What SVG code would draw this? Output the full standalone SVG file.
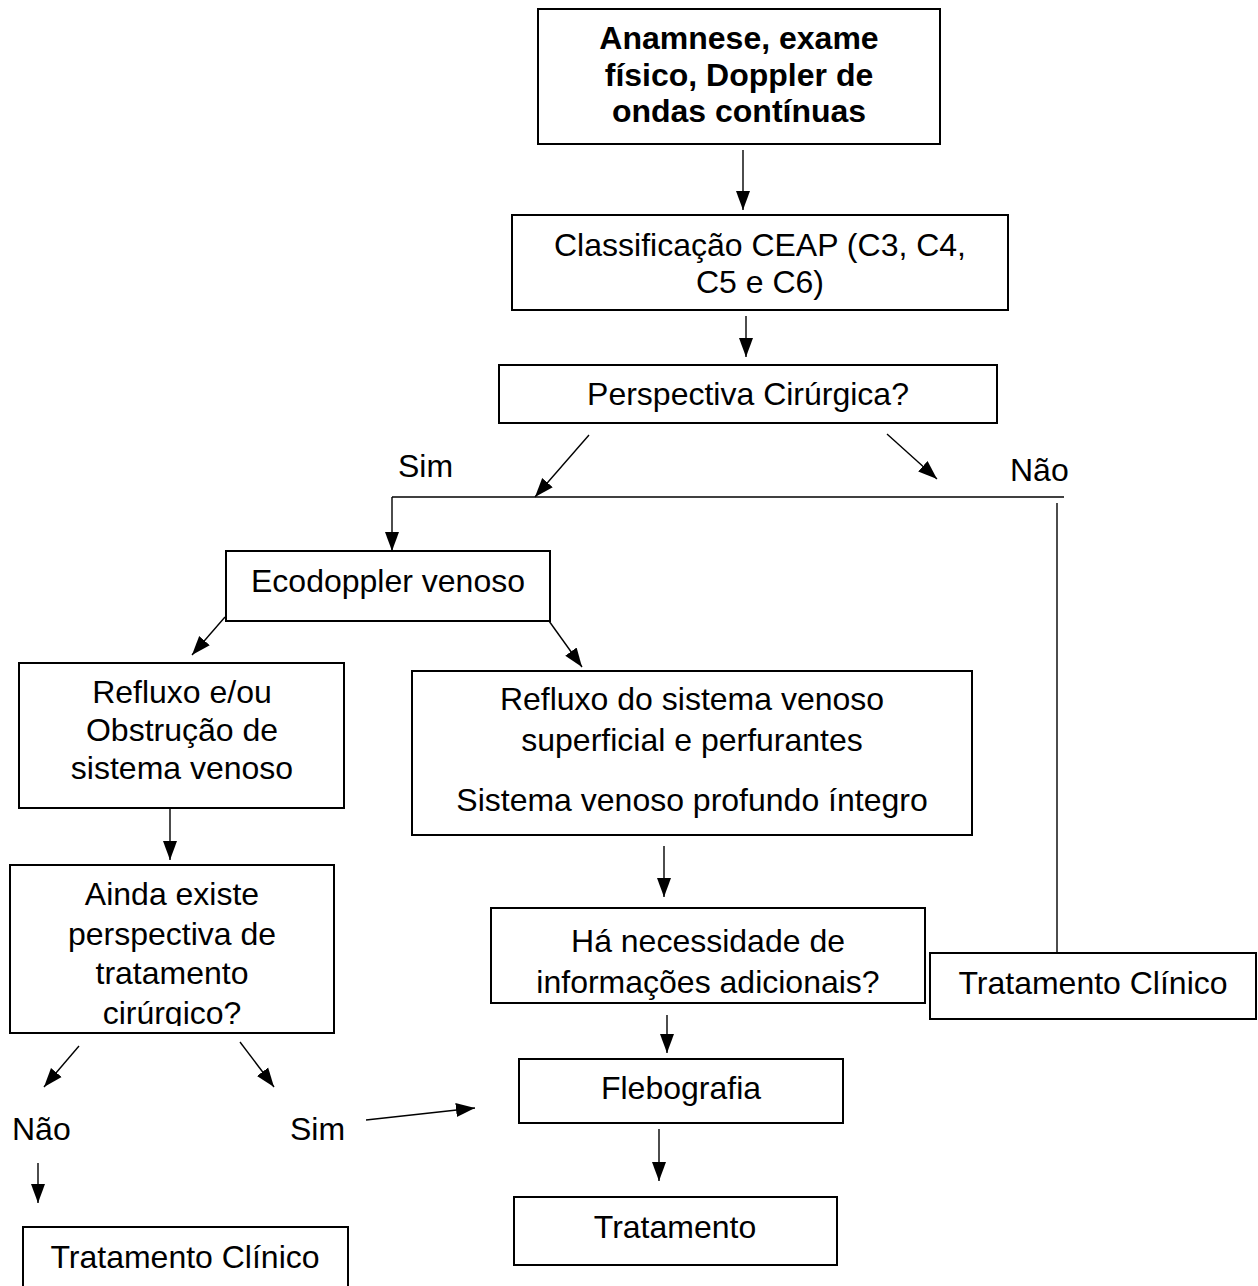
<svg xmlns="http://www.w3.org/2000/svg" width="1258" height="1286" viewBox="0 0 1258 1286">
<defs>
<style>
.box{fill:#fff;stroke:#000;stroke-width:2}
.t{font-family:"Liberation Sans",Arial,sans-serif;font-size:32px;fill:#000;text-anchor:middle}
.b{font-weight:bold}
.l{font-family:"Liberation Sans",Arial,sans-serif;font-size:32px;fill:#000}
.c{stroke:#000;stroke-width:1.4;fill:none}
.ca{stroke:#000;stroke-width:1.4;fill:none;marker-end:url(#ah)}
</style>
<marker id="ah" markerUnits="userSpaceOnUse" markerWidth="20" markerHeight="16" viewBox="0 0 20 16" refX="19" refY="8" orient="auto">
<path d="M0,1 L19,8 L0,15 Z" fill="#000"/>
</marker>
<clipPath id="clipAinda"><rect x="10" y="865" width="324" height="161"/></clipPath>
</defs>
<rect width="1258" height="1286" fill="#fff"/>

<g id="connectors">
<line class="ca" x1="743" y1="150" x2="743" y2="210"/>
<line class="ca" x1="746" y1="316" x2="746" y2="357"/>
<line class="ca" x1="589" y1="435" x2="535" y2="497"/>
<line class="ca" x1="887" y1="434" x2="937" y2="479"/>
<line class="c" x1="392" y1="497" x2="1064" y2="497"/>
<line class="ca" x1="392" y1="497" x2="392" y2="551"/>
<line class="c" x1="1057" y1="503" x2="1057" y2="953"/>
<line class="ca" x1="225" y1="617" x2="192" y2="655"/>
<line class="ca" x1="549" y1="621" x2="582" y2="667"/>
<line class="c" x1="171" y1="797" x2="174" y2="797"/>
<line class="ca" x1="170" y1="805" x2="170" y2="860"/>
<line class="ca" x1="664" y1="846" x2="664" y2="897"/>
<line class="ca" x1="79" y1="1046" x2="44" y2="1087"/>
<line class="ca" x1="240" y1="1042" x2="274" y2="1087"/>
<line class="ca" x1="366" y1="1120" x2="475" y2="1108"/>
<line class="ca" x1="38" y1="1163" x2="38" y2="1203"/>
<line class="ca" x1="667" y1="1015" x2="667" y2="1053"/>
<line class="ca" x1="659" y1="1129" x2="659" y2="1181"/>
</g>

<g id="labels">
<text class="l" x="398" y="477">Sim</text>
<text class="l" x="1010" y="481">Não</text>
<text class="l" x="12" y="1140">Não</text>
<text class="l" x="290" y="1140">Sim</text>
</g>

<g id="n1">
<rect class="box" x="538" y="9" width="402" height="135"/>
<text class="t b" x="739" y="49">Anamnese, exame</text>
<text class="t b" x="739" y="86">físico, Doppler de</text>
<text class="t b" x="739" y="122">ondas contínuas</text>
</g>

<g id="n2">
<rect class="box" x="512" y="215" width="496" height="95"/>
<text class="t" x="760" y="256">Classificação CEAP (C3, C4,</text>
<text class="t" x="760" y="293">C5 e C6)</text>
</g>

<g id="n3">
<rect class="box" x="499" y="365" width="498" height="58"/>
<text class="t" x="748" y="405">Perspectiva Cirúrgica?</text>
</g>

<g id="n4">
<rect class="box" x="226" y="551" width="324" height="70"/>
<text class="t" x="388" y="592">Ecodoppler venoso</text>
</g>

<g id="n5">
<rect class="box" x="19" y="663" width="325" height="145"/>
<text class="t" x="182" y="703">Refluxo e/ou</text>
<text class="t" x="182" y="741">Obstrução de</text>
<text class="t" x="182" y="779">sistema venoso</text>
</g>

<g id="n6">
<rect class="box" x="412" y="671" width="560" height="164"/>
<text class="t" x="692" y="710">Refluxo do sistema venoso</text>
<text class="t" x="692" y="751">superficial e perfurantes</text>
<text class="t" x="692" y="811">Sistema venoso profundo íntegro</text>
</g>

<g id="n7">
<rect class="box" x="10" y="865" width="324" height="168"/>
<g clip-path="url(#clipAinda)">
<text class="t" x="172" y="905">Ainda existe</text>
<text class="t" x="172" y="945">perspectiva de</text>
<text class="t" x="172" y="984">tratamento</text>
<text class="t" x="172" y="1024">cirúrgico?</text>
</g>
</g>

<g id="n8">
<rect class="box" x="491" y="908" width="434" height="95"/>
<text class="t" x="708" y="952">Há necessidade de</text>
<text class="t" x="708" y="993">informações adicionais?</text>
</g>

<g id="n9">
<rect class="box" x="930" y="953" width="326" height="66"/>
<text class="t" x="1093" y="994">Tratamento Clínico</text>
</g>

<g id="n10">
<rect class="box" x="519" y="1059" width="324" height="64"/>
<text class="t" x="681" y="1099">Flebografia</text>
</g>

<g id="n11">
<rect class="box" x="514" y="1197" width="323" height="68"/>
<text class="t" x="675" y="1238">Tratamento</text>
</g>

<g id="n12">
<rect class="box" x="23" y="1227" width="325" height="80"/>
<text class="t" x="185" y="1268">Tratamento Clínico</text>
</g>
</svg>
